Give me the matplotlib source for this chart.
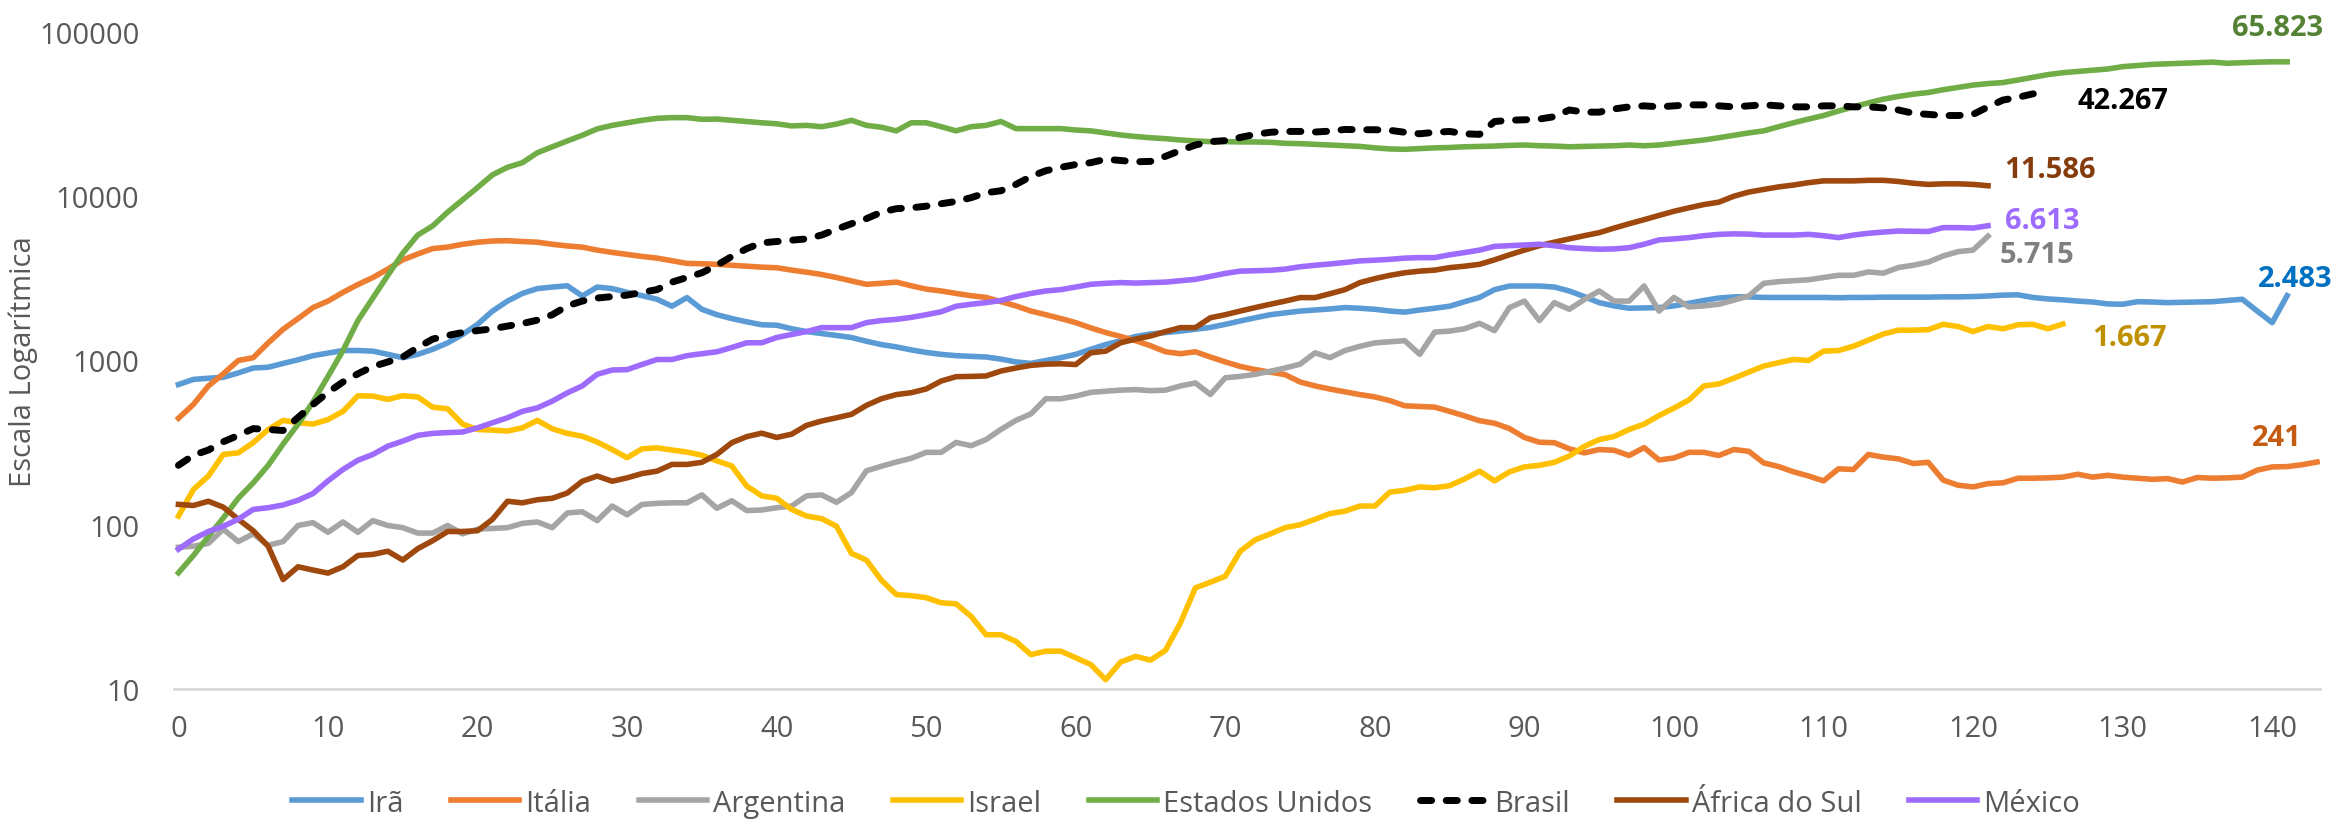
import numpy as np
import matplotlib
matplotlib.use("Agg")
import matplotlib.pyplot as plt

plt.rcParams['font.family'] = ['Open Sans', 'DejaVu Sans']

# -----------------------------
# data (media movel de casos diarios, dias desde o inicio)
# -----------------------------
ira = [714, 767, 780, 790, 840, 900, 910, 960, 1010, 1070,
       1110, 1150, 1150, 1140, 1090, 1040, 1090, 1170, 1280, 1440,
       1660, 2000, 2300, 2560, 2740, 2800, 2850, 2470, 2800, 2740,
       2600, 2480, 2360, 2140, 2415, 2050, 1900, 1800, 1720, 1650,
       1640, 1560, 1500, 1460, 1420, 1380, 1310, 1250, 1210, 1160,
       1120, 1090, 1070, 1060, 1050, 1020, 980, 960, 1000, 1040,
       1090, 1170, 1250, 1320, 1400, 1450, 1480, 1510, 1550, 1590,
       1660, 1740, 1820, 1900, 1950, 2000, 2030, 2060, 2100, 2080,
       2050, 2000, 1970, 2030, 2080, 2140, 2280, 2420, 2700, 2840,
       2840, 2840, 2800, 2650, 2450, 2250, 2150, 2080, 2090, 2100,
       2150, 2230, 2320, 2400, 2440, 2440, 2420, 2420, 2420, 2420,
       2420, 2410, 2420, 2420, 2430, 2430, 2430, 2430, 2440, 2440,
       2450, 2470, 2500, 2510, 2420, 2370, 2340, 2300, 2270, 2210,
       2200, 2280, 2270, 2250, 2260, 2270, 2280, 2320, 2360, 2000,
       1700, 2483]

italia = [445, 540, 700, 830, 1000, 1040, 1280, 1550, 1800, 2100,
          2300, 2600, 2900, 3200, 3600, 4100, 4450, 4800, 4900, 5100,
          5250, 5340, 5360, 5300, 5250, 5100, 4980, 4900, 4700, 4550,
          4420, 4300, 4200, 4050, 3900, 3880, 3850, 3800, 3750, 3700,
          3670, 3550, 3450, 3340, 3200, 3050, 2910, 2950, 3000, 2850,
          2720, 2650, 2560, 2480, 2420, 2280, 2150, 2000, 1900, 1800,
          1700, 1580, 1480, 1400, 1320, 1230, 1130, 1100, 1130, 1050,
          980, 920, 880, 850, 820, 740, 700, 670, 645, 620,
          600, 570, 530, 525, 520, 490, 460, 430, 415, 385,
          340, 318, 316, 290, 274, 287, 284, 264, 295, 248,
          255, 276, 276, 264, 287, 280, 238, 226, 210, 198,
          185, 219, 217, 268, 258, 252, 236, 240, 187, 174,
          170, 178, 180, 192, 192, 193, 195, 203, 195, 200,
          195, 192, 189, 191, 182, 194, 192, 193, 195, 215,
          225, 226, 232, 241]

argentina = [73, 74, 77, 94, 79, 88, 75, 79, 99, 103,
             90, 104, 90, 106, 99, 96, 89, 89, 99, 88,
             94, 95, 96, 102, 104, 96, 118, 120, 106, 130,
             115, 133, 135, 136, 136, 152, 126, 140, 122, 123,
             127, 130, 150, 152, 137, 157, 213, 227, 241, 254,
             276, 276, 317, 303, 330, 381, 432, 473, 585, 585,
             607, 640, 650, 660, 665, 655, 660, 700, 730, 621,
             785, 800, 824, 860, 900, 950, 1114, 1040, 1150, 1220,
             1280, 1300, 1320, 1090, 1490, 1510, 1560, 1683, 1520, 2100,
             2300, 1750, 2250, 2050, 2350, 2650, 2300, 2300, 2840, 2000,
             2420, 2120, 2150, 2200, 2330, 2470, 2950, 3020, 3060, 3100,
             3200, 3300, 3300, 3460, 3400, 3680, 3800, 3970, 4330, 4600,
             4700, 5715]

israel = [113, 164, 198, 268, 274, 316, 380, 432, 418, 410,
          437, 490, 610, 607, 580, 610, 600, 520, 508, 410,
          380, 377, 372, 389, 432, 384, 360, 346, 319, 287,
          256, 290, 294, 285, 277, 265, 245, 228, 172, 150,
          145, 124, 113, 109, 98, 67, 61, 46, 37.6, 37,
          36, 33.5, 33, 27.7, 21.4, 21.4, 19.5, 16.2, 17, 17,
          15.5, 14.1, 11.4, 14.6, 15.8, 15, 17.2, 25.3, 41.3, 44.7,
          48.6, 69, 81, 88, 96, 100, 108, 117, 121, 130,
          130, 158, 162, 170, 168, 173, 190, 212, 185, 210,
          225, 230, 240, 262, 300, 330, 345, 380, 410, 462,
          513, 575, 700, 720, 780, 850, 925, 970, 1015, 1000,
          1140, 1150, 1222, 1330, 1450, 1530, 1530, 1540, 1660, 1610,
          1500, 1610, 1560, 1650, 1660, 1560, 1667]

eua = [51, 65, 85, 110, 145, 180, 230, 310, 410, 560,
       800, 1150, 1750, 2400, 3300, 4500, 5800, 6600, 8000, 9500,
       11300, 13500, 15000, 16000, 18400, 20000, 21700, 23500, 25700, 27000,
       28000, 29000, 29800, 30100, 30100, 29400, 29500, 29000, 28500, 28000,
       27600, 26800, 27000, 26500, 27500, 29000, 27000, 26300, 25000, 28000,
       28000, 26500, 25000, 26500, 27000, 28500, 25800, 25800, 25800, 25800,
       25300, 25000, 24300, 23600, 23100, 22700, 22400, 22000, 21700, 21500,
       21500, 21400, 21400, 21300, 21000, 20900, 20700, 20500, 20300, 20100,
       19700, 19400, 19300, 19500, 19700, 19800, 20000, 20100, 20200, 20400,
       20500, 20300, 20200, 20000, 20100, 20200, 20300, 20500, 20300, 20500,
       21000, 21500, 22000, 22700, 23500, 24300, 25000, 26500, 28000, 29500,
       31000, 33000, 35000, 37000, 39000, 40500, 41800, 42800, 44500, 46000,
       47500, 48500, 49200, 51000, 53000, 55000, 56500, 57500, 58500, 59500,
       61500, 62500, 63500, 64000, 64500, 65000, 65500, 64500, 65000, 65500,
       65800, 65823]

brasil = [230, 265, 285, 320, 350, 385, 380, 375, 450, 540,
          640, 740, 830, 920, 980, 1050, 1200, 1350, 1420, 1480,
          1520, 1560, 1620, 1680, 1760, 1900, 2150, 2300, 2400, 2450,
          2500, 2600, 2700, 3000, 3200, 3420, 3800, 4300, 4800, 5200,
          5300, 5400, 5500, 5800, 6300, 6800, 7300, 8000, 8400, 8500,
          8700, 9000, 9300, 9800, 10500, 10800, 11800, 13200, 14300, 15000,
          15600, 16000, 16800, 16500, 16200, 16300, 17500, 19000, 20500, 21500,
          21800, 22800, 23800, 24500, 24800, 24800, 24600, 24900, 25500, 25400,
          25400, 25200, 24500, 24000, 24500, 24800, 24000, 23800, 28500, 29000,
          29200, 29500, 30500, 33500, 32500, 32500, 34000, 35000, 35500, 35000,
          35500, 36000, 36000, 35500, 35000, 35500, 36000, 35500, 35000, 35000,
          35500, 35500, 35000, 35000, 34500, 33500, 32000, 31500, 31000, 31000,
          31500, 35000, 38500, 40000, 42000, 42267]

africa_sul = [133, 131, 139, 128, 108, 92, 74, 46.4, 55.5, 53,
              50.8, 55.5, 65, 66, 69, 61, 71.5, 80, 91, 91,
              92, 108, 139, 136, 142, 145, 156, 184, 198, 184,
              193, 205, 212, 233, 233, 240, 268, 316, 344, 361,
              340, 356, 403, 428, 448, 470, 533, 585, 620, 637,
              671, 750, 797, 800, 805, 863, 900, 934, 950, 955,
              945, 1114, 1140, 1282, 1350, 1410, 1500, 1585, 1585, 1820,
              1900, 2000, 2100, 2200, 2300, 2415, 2415, 2550, 2700, 2980,
              3150, 3300, 3420, 3500, 3550, 3675, 3750, 3850, 4100, 4400,
              4700, 5000, 5250, 5500, 5750, 6000, 6400, 6800, 7200, 7640,
              8100, 8500, 8900, 9200, 10000, 10600, 11000, 11400, 11700, 12100,
              12400, 12400, 12400, 12500, 12500, 12300, 12000, 11800, 11900, 11900,
              11800, 11586]

mexico = [71, 82, 91, 98, 108, 124, 127, 132, 141, 155,
          185, 217, 247, 268, 301, 323, 350, 360, 364, 367,
          389, 418, 448, 490, 515, 566, 635, 700, 824, 875,
          880, 946, 1014, 1014, 1070, 1100, 1130, 1200, 1282, 1282,
          1380, 1440, 1500, 1585, 1585, 1585, 1700, 1750, 1780, 1830,
          1900, 1980, 2140, 2200, 2250, 2320, 2450, 2560, 2650, 2700,
          2800, 2910, 2950, 2980, 2960, 2980, 3000, 3060, 3120, 3250,
          3390, 3500, 3520, 3540, 3600, 3720, 3800, 3870, 3950, 4040,
          4080, 4130, 4200, 4230, 4230, 4400, 4540, 4700, 4950, 5000,
          5050, 5100, 5000, 4860, 4800, 4760, 4780, 4860, 5100, 5420,
          5500, 5600, 5750, 5860, 5900, 5880, 5800, 5800, 5800, 5860,
          5750, 5600, 5800, 5950, 6050, 6140, 6120, 6100, 6440, 6440,
          6400, 6613]

nomes = ["Irã", "Itália", "Argentina", "Israel", "Estados Unidos",
         "Brasil", "África do Sul", "México"]
rotulos = ["2.483", "241", "5.715", "1.667", "65.823", "42.267", "11.586", "6.613"]

# -----------------------------
# style
# -----------------------------
series = [ira, italia, argentina, israel, eua, brasil, africa_sul, mexico]
cores = ["#5B9BD5", "#ED7D31", "#A5A5A5", "#FFC000", "#70AD47",
         "#000000", "#9E480E", "#9E6BFF"]
cores_rotulo = ["#0070C0", "#C55A11", "#7F7F7F", "#BF9000", "#548235",
                "#000000", "#843C0C", "#9E6BFF"]
# offsets (points) of each end label relative to last point, and alignment
offsets = [(6, 12, "center"), (-29, 18, "center"), (8, -13, "left"),
           (21, -10, "left"), (-7, 25, "center"), (21, -5, "left"),
           (12, 12, "left"), (12, 4, "left")]

fig = plt.figure(figsize=(23.35, 8.2), dpi=100)
ax = fig.add_axes([0.0745, 0.1585, 0.9191, 0.8013])

for nome, dados, cor, rot, cr, (dx, dy, ha) in zip(nomes, series, cores, rotulos,
                                                    cores_rotulo, offsets):
    x = np.arange(len(dados))
    if nome == "Brasil":
        ax.plot(x, dados, color=cor, linewidth=5, dashes=(1.6, 2.1),
                dash_capstyle="round", label=nome, zorder=3)
    else:
        ax.plot(x, dados, color=cor, linewidth=4, solid_joinstyle="round",
                label=nome, zorder=2)
    ax.annotate(rot, xy=(x[-1], dados[-1]), xytext=(dx, dy),
                textcoords="offset points", ha=ha, va="center",
                fontsize=21, fontweight="bold", color=cr, annotation_clip=False)

ax.set_yscale("log")
ax.set_ylim(10, 100000)
ax.set_xlim(-0.3, 143.2)
ax.set_yticks([10, 100, 1000, 10000, 100000])
ax.set_yticklabels(["10", "100", "1000", "10000", "100000"])
ax.minorticks_off()
ax.set_xticks(np.arange(0, 141, 10))

for s in ["top", "right", "left"]:
    ax.spines[s].set_visible(False)
ax.spines["bottom"].set_color("#D9D9D9")
ax.spines["bottom"].set_linewidth(2)

ax.tick_params(axis="both", length=0, labelsize=21, labelcolor="#595959")
ax.tick_params(axis="y", pad=25)
ax.tick_params(axis="x", pad=18)
ax.set_ylabel("Escala Logarítmica", fontsize=21, color="#595959")
ax.yaxis.set_label_coords(-0.0634, 0.5)

fig.legend(loc="center", bbox_to_anchor=(0.508, 0.0195), ncol=8, frameon=False,
           fontsize=21, labelcolor="#595959", handlelength=2.35,
           handletextpad=0.2, columnspacing=1.63)

fig.savefig("out.png", dpi=100)
